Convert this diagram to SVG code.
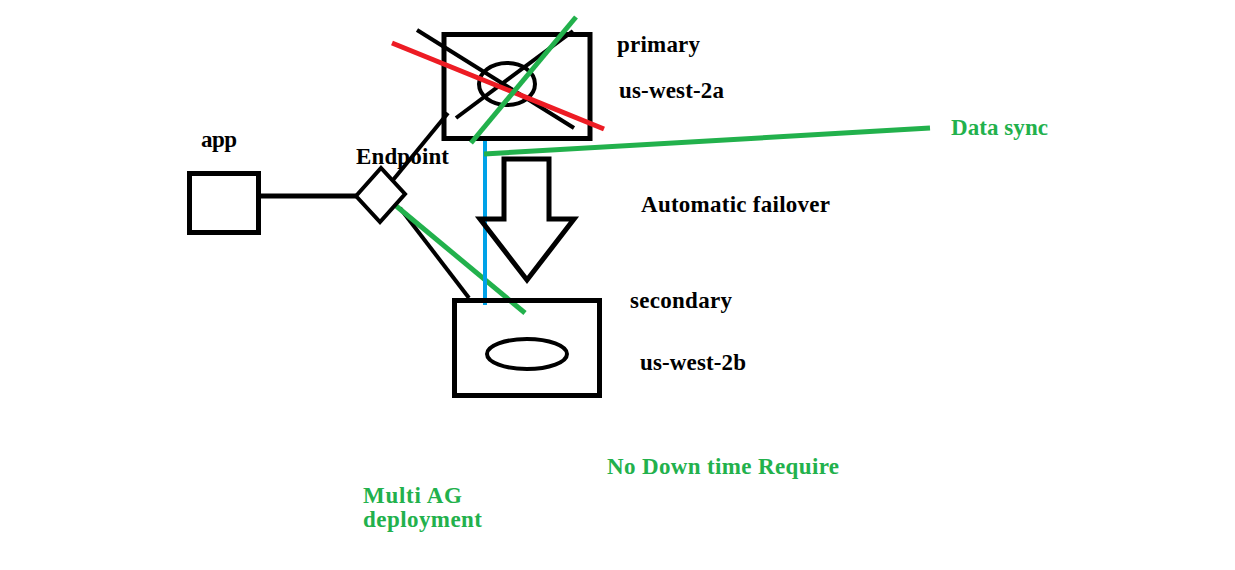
<svg xmlns="http://www.w3.org/2000/svg" width="1235" height="570" viewBox="0 0 1235 570">
<style>
.blk{fill:none;stroke:#000;stroke-width:5}
.thin{fill:none;stroke:#000;stroke-width:4}
.g{stroke:#22b14c;stroke-width:5;fill:none}
.t{font-family:"Liberation Serif","Times New Roman",serif;font-weight:bold;font-size:23px;fill:#000}
.tg{font-family:"Liberation Serif","Times New Roman",serif;font-weight:bold;font-size:23px;fill:#22b14c}
</style>
<rect width="1235" height="570" fill="#fff"/>
<g id="connectors">
<line x1="258" y1="196" x2="357" y2="196" class="blk"/>
<line x1="393" y1="180" x2="448" y2="113" class="thin"/>
<line x1="400" y1="208" x2="469" y2="298" class="thin"/>
<line x1="395" y1="205" x2="525" y2="313" class="g"/>
<line x1="485" y1="138" x2="485" y2="305" stroke="#00a2e8" stroke-width="4"/>
<line x1="484" y1="154" x2="930" y2="128" class="g"/>
</g>
<g id="app">
<rect x="189.5" y="173.5" width="69" height="59" class="blk"/>
<text x="201" y="147" class="t" textLength="36">app</text>
</g>
<g id="endpoint">
<polygon points="356,196 381,168 405,194 380,222" fill="#fff" class="thin"/>
<text x="356" y="164" class="t" textLength="93">Endpoint</text>
</g>
<g id="primary">
<rect x="444" y="34.5" width="146" height="104" class="blk"/>
<ellipse cx="507" cy="84" rx="28" ry="21" class="thin"/>
<line x1="417" y1="30" x2="574" y2="128" class="thin"/>
<line x1="456" y1="118" x2="573" y2="31" class="thin"/>
<line x1="392" y1="43" x2="604" y2="129" stroke="#ed1c24" stroke-width="5"/>
<line x1="471" y1="143" x2="576" y2="17" class="g"/>
<text x="617" y="52" class="t" textLength="83">primary</text>
<text x="619" y="98" class="t" textLength="105">us-west-2a</text>
</g>
<g id="failover">
<polygon points="504,159 549,159 549,219 574,219 527,280 480,219 504,219" class="blk" stroke-linejoin="miter"/>
<text x="641" y="212" class="t" textLength="189">Automatic failover</text>
</g>
<g id="secondary">
<rect x="454.5" y="300.5" width="145" height="95" class="blk"/>
<ellipse cx="527" cy="354" rx="40" ry="15" class="thin"/>
<text x="630" y="308" class="t" textLength="102">secondary</text>
<text x="640" y="370" class="t" textLength="106">us-west-2b</text>
</g>
<g id="labels">
<text x="951" y="135" class="tg" textLength="97">Data sync</text>
<text x="607" y="474" class="tg" textLength="232">No Down time Require</text>
<text x="363" y="503" class="tg" textLength="99">Multi AG</text>
<text x="363" y="527" class="tg" textLength="119">deployment</text>
</g>
</svg>
